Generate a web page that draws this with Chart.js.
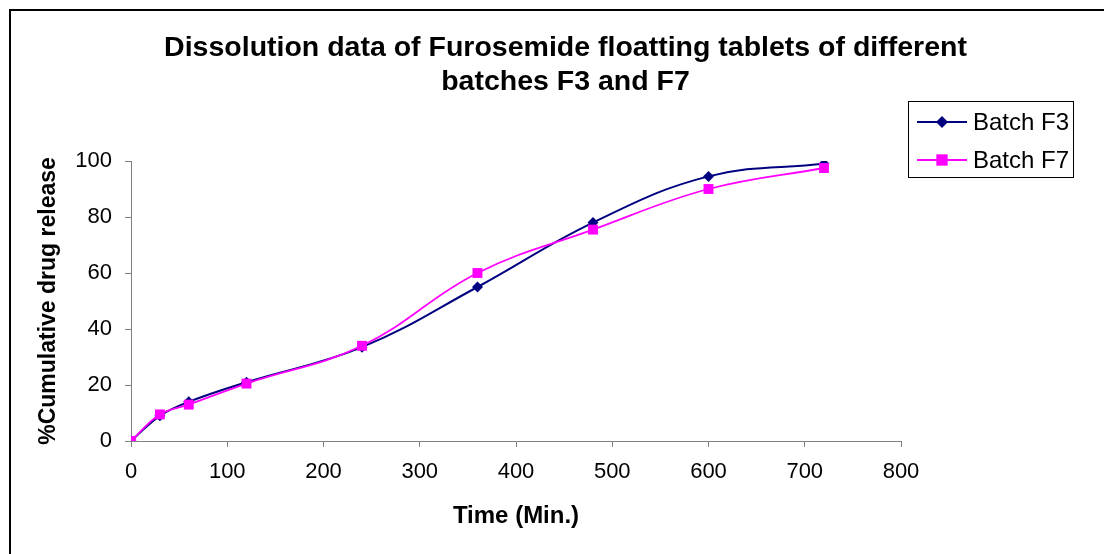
<!DOCTYPE html>
<html>
<head>
<meta charset="utf-8">
<script src="https://cdn.jsdelivr.net/npm/chart.js@4.4.0/dist/chart.umd.min.js"></script>
<style>
  html, body { margin: 0; padding: 0; background: #ffffff; overflow: hidden; }
  #wrap { position: relative; width: 1104px; height: 554px; }
</style>
</head>
<body>
<div id="wrap"><canvas id="c" width="1104" height="554"></canvas></div>
<script>
const chartTitle = ['Dissolution data of Furosemide floatting tablets of different', 'batches F3 and F7'];
const xAxisTitle = 'Time (Min.)';
const yAxisTitle = '%Cumulative drug release';
const timeMin = [0, 30, 60, 120, 240, 360, 480, 600, 720];
const batchF3 = [0, 9, 14, 21, 33.5, 55, 78, 94.5, 99];
const batchF7 = [0, 9.5, 13, 20.5, 34, 60, 75.5, 90, 97.5];
const seriesNames = ['Batch F3', 'Batch F7'];
const xTickMax = 800, xTickStep = 100;
const yTickMax = 100, yTickStep = 20;

const FONT = '"Liberation Sans", Arial, sans-serif';
const AXIS_GRAY = '#808080';

function toPoints(xs, ys) { return xs.map((x, i) => ({ x: x, y: ys[i] })); }

function drawMarker(ctx, style, x, y, r, color) {
  ctx.save();
  ctx.fillStyle = color;
  ctx.beginPath();
  if (style === 'rectRot') {
    ctx.moveTo(x, y - r); ctx.lineTo(x + r, y); ctx.lineTo(x, y + r); ctx.lineTo(x - r, y);
  } else {
    const s = r * Math.SQRT1_2;
    ctx.rect(x - s, y - s, 2 * s, 2 * s);
  }
  ctx.closePath();
  ctx.fill();
  ctx.restore();
}

const chromePlugin = {
  id: 'chrome',
  beforeDraw(chart) {
    const ctx = chart.ctx;
    ctx.save();
    ctx.fillStyle = '#ffffff';
    ctx.fillRect(0, 0, chart.width, chart.height);
    ctx.restore();
  },
  afterDraw(chart) {
    const ctx = chart.ctx;
    ctx.save();
    // outer frame
    ctx.strokeStyle = '#000000';
    ctx.lineWidth = 2;
    ctx.strokeRect(10, 10, chart.width + 20, chart.height + 20);
    // title
    ctx.fillStyle = '#000000';
    ctx.font = 'bold 28.5px ' + FONT;
    ctx.textAlign = 'center';
    ctx.textBaseline = 'middle';
    ctx.fillText(chartTitle[0], 565.5, 48);
    ctx.fillText(chartTitle[1], 565.5, 82);
    // legend
    ctx.lineWidth = 1;
    ctx.strokeStyle = '#000000';
    ctx.strokeRect(908.5, 101.5, 165, 76);
    const rows = [122, 160];
    chart.data.datasets.forEach((ds, i) => {
      const y = rows[i];
      ctx.strokeStyle = ds.borderColor;
      ctx.lineWidth = ds.borderWidth;
      ctx.beginPath();
      ctx.moveTo(917, y); ctx.lineTo(967, y);
      ctx.stroke();
      drawMarker(ctx, ds.pointStyle, 942, y, ds.pointStyle === 'rectRot' ? 6 : 8, ds.backgroundColor);
      ctx.fillStyle = '#000000';
      ctx.font = '24px ' + FONT;
      ctx.textAlign = 'left';
      ctx.textBaseline = 'middle';
      ctx.fillText(ds.label, 973, y + 1);
    });
    ctx.restore();
  }
};

new Chart(document.getElementById('c'), {
  type: 'line',
  data: {
    datasets: [
      {
        label: seriesNames[0],
        data: toPoints(timeMin, batchF3),
        borderColor: '#000080',
        backgroundColor: '#000080',
        borderWidth: 2,
        pointStyle: 'rectRot',
        pointRadius: 5.5,
        pointBorderWidth: 0,
        tension: 0.4,
        order: 1
      },
      {
        label: seriesNames[1],
        data: toPoints(timeMin, batchF7),
        borderColor: '#FF00FF',
        backgroundColor: '#FF00FF',
        borderWidth: 1.8,
        pointStyle: 'rect',
        pointRadius: 7,
        pointBorderWidth: 0,
        tension: 0.4,
        order: 0
      }
    ]
  },
  options: {
    responsive: false,
    animation: false,
    devicePixelRatio: 1,
    layout: { padding: { left: 0, top: 161, right: 203, bottom: 0 } },
    plugins: {
      legend: { display: false },
      title: { display: false },
      tooltip: { enabled: false }
    },
    scales: {
      x: {
        type: 'linear',
        min: 0,
        max: xTickMax,
        afterFit: (s) => { s.height = 113; },
        ticks: { stepSize: xTickStep, padding: 12, color: '#000000', font: { family: FONT, size: 22 } },
        grid: { drawOnChartArea: false, color: AXIS_GRAY, tickLength: 6 },
        border: { color: AXIS_GRAY, width: 1 },
        title: { display: true, text: xAxisTitle, color: '#000000', font: { family: FONT, size: 24, weight: 'bold' }, padding: { top: 0, bottom: 23 } }
      },
      y: {
        min: 0,
        max: yTickMax,
        afterFit: (s) => { s.width = 131; },
        ticks: { stepSize: yTickStep, padding: 13, color: '#000000', font: { family: FONT, size: 22 } },
        grid: { drawOnChartArea: false, color: AXIS_GRAY, tickLength: 6 },
        border: { color: AXIS_GRAY, width: 1 },
        title: { display: true, text: yAxisTitle, color: '#000000', font: { family: FONT, size: 23, weight: 'bold' }, padding: { top: 35, bottom: 0 } }
      }
    }
  },
  plugins: [chromePlugin]
});
</script>
</body>
</html>
